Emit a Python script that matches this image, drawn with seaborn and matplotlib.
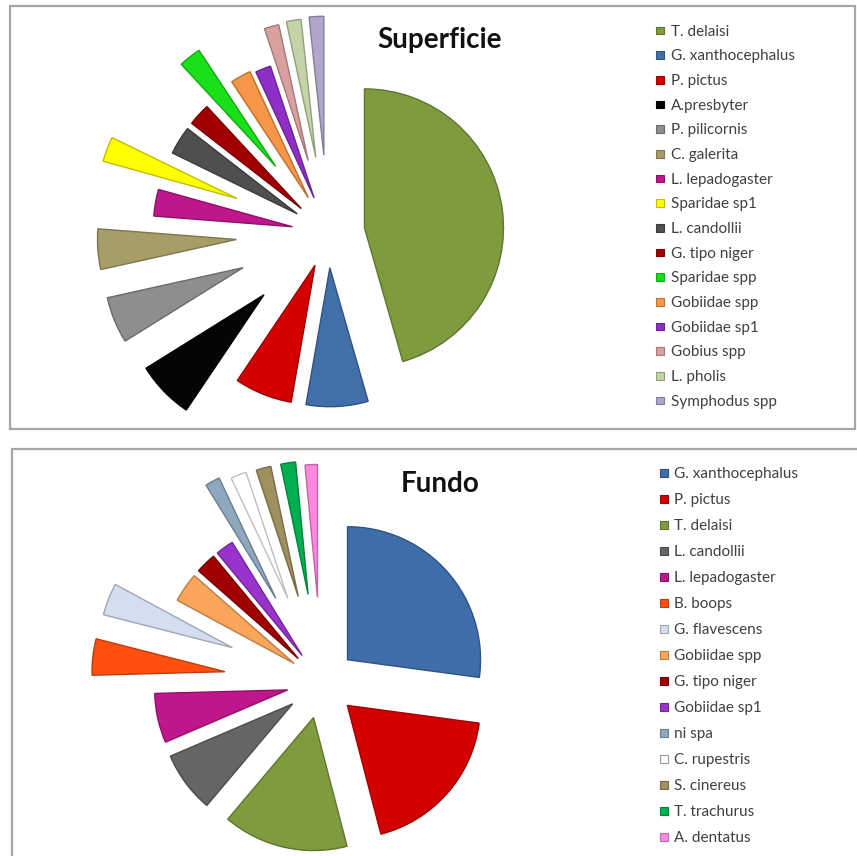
import matplotlib
matplotlib.use("Agg")
import matplotlib.pyplot as plt
from matplotlib.patches import Rectangle
import matplotlib.colors as mcolors
import seaborn as sns

# ---------------- data ----------------
sup_labels = ["T. delaisi", "G. xanthocephalus", "P. pictus", "A.presbyter", "P. pilicornis",
              "C. galerita", "L. lepadogaster", "Sparidae sp1", "L. candollii", "G. tipo niger",
              "Sparidae spp", "Gobiidae spp", "Gobiidae sp1", "Gobius spp", "L. pholis",
              "Symphodus spp"]
sup_values = [45.6, 7.2, 6.7, 6.7, 5.4, 4.7, 3.1, 2.9, 3.3, 2.6, 2.6, 2.4, 1.8, 1.7, 1.7, 1.7]

fun_labels = ["G. xanthocephalus", "P. pictus", "T. delaisi", "L. candollii", "L. lepadogaster",
              "B. boops", "G. flavescens", "Gobiidae spp", "G. tipo niger", "Gobiidae sp1",
              "ni spa", "C. rupestris", "S. cinereus", "T. trachurus", "A. dentatus"]
fun_values = [27.1, 18.8, 15.2, 7.4, 6.0, 4.4, 3.9, 3.6, 2.5, 2.2, 1.8, 1.9, 1.8, 1.8, 1.5]

# ---------------- styles ----------------
sup_colors = ["#7E9C3E", "#416FAA", "#D40000", "#050505", "#8E8E8E", "#A69D68", "#C0168C",
              "#FFFF00", "#4F4F4F", "#A00000", "#19E019", "#F79646", "#8E2FC8", "#D9A0A0",
              "#C4D4A6", "#B0A6CC"]
fun_colors = ["#3F6DAA", "#D40000", "#7E9C3E", "#656565", "#C0168C", "#FF5010", "#D3DFEE",
              "#F9A65A", "#A00000", "#9933CC", "#8EA8BF", "#FFFFFF", "#A08F5F", "#00B050",
              "#FF88E0"]
sup_explode = [0.265, 0.25, 0.25, 0.64, 0.66, 0.66, 0.26, 0.70, 0.26, 0.26, 0.61, 0.29, 0.27,
               0.54, 0.55, 0.56]
fun_explode = [0.26, 0.26, 0.27, 0.27, 0.26, 0.73, 0.72, 0.25, 0.25, 0.25, 0.72, 0.68, 0.67,
               0.67, 0.64]

sns.set_theme(style="white")
plt.rcParams["font.family"] = ["Lato", "DejaVu Sans"]

W, H = 857, 856
fig = plt.figure(figsize=(W / 100, H / 100), dpi=100)
fig.patch.set_facecolor("white")


def darker(c, f=0.75):
    r, g, b = mcolors.to_rgb(c)
    return (r * f, g * f, b * f)


def px_axes(x0, y0, x1, y1):
    return fig.add_axes([x0 / W, 1 - y1 / H, (x1 - x0) / W, (y1 - y0) / H])


# frames
for (x0, y0, x1, y1) in [(10, 6, 855, 429), (12, 449, 870, 870)]:
    fig.patches.append(Rectangle((x0 / W, 1 - y1 / H), (x1 - x0) / W, (y1 - y0) / H,
                                 transform=fig.transFigure, fill=False,
                                 edgecolor="#A6A6A6", linewidth=1.6))


def draw_pie(values, colors, explode, cx, cy, R, box):
    x0, y0, x1, y1 = box
    ax = px_axes(x0, y0, x1, y1)
    pal = sns.color_palette(colors)
    edges = [darker(c) if c != (1.0, 1.0, 1.0) else (0.75, 0.75, 0.75) for c in pal]
    wedges, _ = ax.pie(values, colors=pal, explode=explode, startangle=90,
                       counterclock=False, radius=1.0,
                       wedgeprops=dict(linewidth=1.0))
    for w, e in zip(wedges, edges):
        w.set_edgecolor(e)
    ax.set_aspect("auto")
    ax.set_xlim((x0 - cx) / R, (x1 - cx) / R)
    ax.set_ylim((cy - y1) / R, (cy - y0) / R)
    ax.axis("off")
    return ax


draw_pie(sup_values, sup_colors, sup_explode, 328, 233, 139, (12, 8, 640, 427))
draw_pie(fun_values, fun_colors, fun_explode, 321.5, 682.5, 133, (14, 451, 640, 856))

# legends and titles in pixel coordinates
lax = px_axes(0, 0, W, H)
lax.set_xlim(0, W)
lax.set_ylim(H, 0)
lax.axis("off")

lax.text(440, 48, "Superficie", ha="center", va="baseline", fontsize=20,
         fontweight="bold", color="#111111")
lax.text(440, 492, "Fundo", ha="center", va="baseline", fontsize=20,
         fontweight="bold", color="#111111")


def draw_legend(labels, colors, xm, xt, yb0, dy, size):
    for i, (lab, col) in enumerate(zip(labels, colors)):
        yb = yb0 + i * dy
        ec = darker(col) if col.upper() != "#FFFFFF" else "#9A9A9A"
        lax.add_patch(Rectangle((xm - size / 2, yb - 5 - size / 2), size, size,
                                facecolor=col, edgecolor=ec, linewidth=0.8))
        lax.text(xt, yb, lab, ha="left", va="baseline", fontsize=11, color="#404040")


draw_legend(sup_labels, sup_colors, 660, 671, 35.5, 24.67, 7.5)
draw_legend(fun_labels, fun_colors, 664, 674, 478, 26.0, 8)

fig.savefig("out.png", dpi=100, facecolor="white")
